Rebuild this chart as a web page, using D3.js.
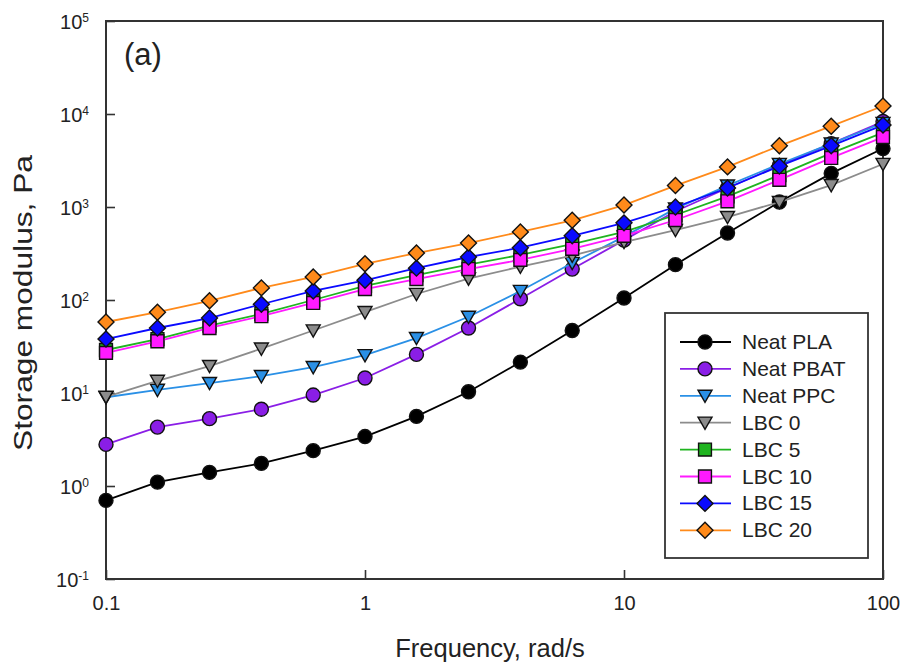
<!DOCTYPE html>
<html>
<head>
<meta charset="utf-8">
<script src="https://cdn.jsdelivr.net/npm/d3@7/dist/d3.min.js"></script>
<style>
  body { margin: 0; background: #fff; }
  svg text { font-family: "Liberation Sans", Arial, sans-serif; fill: #222; }
</style>
</head>
<body>
<svg id="chart" width="904" height="664"></svg>
<script>
// Angular frequency sweep, rad/s
const frequency = [0.1, 0.158, 0.251, 0.398, 0.631, 1, 1.58, 2.51, 3.98, 6.31, 10, 15.8, 25.1, 39.8, 63.1, 100];

// Storage modulus G', Pa
const neatPLA  = [0.7, 1.1, 1.4, 1.75, 2.4, 3.4, 5.6, 10.3, 21.5, 47, 105, 240, 525, 1130, 2300, 4250];
const neatPBAT = [2.8, 4.3, 5.3, 6.7, 9.5, 14.5, 26, 50, 103, 215, 440, 900, 1600, 2800, 4800, 8300];
const neatPPC  = [9.0, 10.8, 12.8, 15.2, 19, 25.5, 39, 66, 125, 250, 480, 960, 1700, 2900, 4800, 8000];
const lbc0     = [9.1, 13.5, 19.5, 30, 47, 74, 116, 170, 228, 300, 420, 565, 780, 1130, 1720, 2900];
const lbc5     = [29, 38, 53, 71, 100, 142, 185, 240, 305, 400, 540, 820, 1300, 2200, 3800, 6300];
const lbc10    = [27, 36, 50, 67, 93, 131, 168, 215, 270, 355, 490, 725, 1150, 1960, 3370, 5650];
const lbc15    = [38, 50, 64, 90, 125, 163, 220, 290, 365, 490, 675, 1000, 1600, 2750, 4550, 7600];
const lbc20    = [58, 74, 98, 135, 177, 245, 320, 410, 540, 720, 1050, 1700, 2700, 4550, 7400, 12200];

const seriesNames  = ["Neat PLA", "Neat PBAT", "Neat PPC", "LBC 0", "LBC 5", "LBC 10", "LBC 15", "LBC 20"];
const seriesValues = [neatPLA, neatPBAT, neatPPC, lbc0, lbc5, lbc10, lbc15, lbc20];
const seriesColors = ["#000000", "#8a1ee6", "#2a90e6", "#8c8c8c", "#1fb41f", "#ff1aff", "#0a0aff", "#ff8a1a"];
const seriesSymbols = ["circle", "circle", "triDown", "triDown", "square", "square", "diamond", "diamond"];

const xTicks = [0.1, 1, 10, 100];
const yTicks = [0.1, 1, 10, 100, 1000, 10000, 100000];

const svg = d3.select("#chart");
const margin = { left: 106, right: 21, top: 21, bottom: 85 };
const W = 904, H = 664;
const iw = W - margin.left - margin.right;
const ih = H - margin.top - margin.bottom;

const x = d3.scaleLog().domain([0.1, 100]).range([margin.left, margin.left + iw]);
const y = d3.scaleLog().domain([0.1, 100000]).range([margin.top + ih, margin.top]);

// axes with inward ticks
const gx = svg.append("g")
  .attr("transform", `translate(0,${margin.top + ih})`)
  .call(d3.axisBottom(x).tickValues(xTicks).tickFormat(d => d < 1 ? d3.format(".1f")(d) : d3.format("d")(d))
        .tickSizeInner(-9).tickSizeOuter(0).tickPadding(17));
gx.select(".domain").remove();
gx.selectAll("line").attr("stroke", "#333").attr("stroke-width", 1.6);
gx.selectAll("text").attr("font-size", 20).attr("fill", "#222");

const gy = svg.append("g")
  .attr("transform", `translate(${margin.left},0)`)
  .call(d3.axisLeft(y).tickValues(yTicks).tickSizeInner(-9).tickSizeOuter(0).tickPadding(17));
gy.select(".domain").remove();
gy.selectAll("line").attr("stroke", "#333").attr("stroke-width", 1.6);
gy.selectAll(".tick text").each(function(d) {
  const t = d3.select(this);
  t.text(null).attr("font-size", 20).attr("fill", "#222").attr("dy", "7px");
  t.append("tspan").text("10");
  t.append("tspan").attr("font-size", 12).attr("dy", "-6.5px").text(Math.round(Math.log10(d)));
});

// plot frame
svg.append("rect")
  .attr("x", margin.left).attr("y", margin.top)
  .attr("width", iw).attr("height", ih)
  .attr("fill", "none").attr("stroke", "#333").attr("stroke-width", 2);

// axis titles
svg.append("text")
  .attr("x", 490).attr("y", 657)
  .attr("text-anchor", "middle").attr("font-size", 25.5)
  .text("Frequency, rad/s");
svg.append("text")
  .attr("transform", "translate(32,303) rotate(-90)")
  .attr("text-anchor", "middle").attr("font-size", 25)
  .attr("textLength", 296).attr("lengthAdjust", "spacingAndGlyphs")
  .text("Storage modulus, Pa");

// panel label
svg.append("text")
  .attr("x", 124).attr("y", 65).attr("font-size", 31)
  .text("(a)");

// marker shapes (s = nominal marker width in px)
function symbolPath(kind, s) {
  switch (kind) {
    case "circle": return d3.symbol().type(d3.symbolCircle).size(Math.PI * (s / 2) * (s / 2))();
    case "square": { const h = s * 0.46; return `M${-h},${-h}H${h}V${h}H${-h}Z`; }
    case "diamond": { const h = s * 0.57; return `M0,${-h}L${h},0L0,${h}L${-h},0Z`; }
    case "triDown": { const h = s * 0.5; return `M${-h},${-h * 0.8}L${h},${-h * 0.8}L0,${h * 0.95}Z`; }
  }
}

const line = d3.line().x(d => x(d[0])).y(d => y(d[1]));

const plot = svg.append("g");
seriesValues.forEach((vals, i) => {
  const pts = frequency.map((f, j) => [f, vals[j]]);
  const g = plot.append("g");
  g.append("path").datum(pts).attr("d", line)
    .attr("fill", "none").attr("stroke", seriesColors[i]).attr("stroke-width", 1.8);
  g.selectAll("path.m").data(pts).enter().append("path")
    .attr("class", "m")
    .attr("transform", d => `translate(${x(d[0])},${y(d[1])})`)
    .attr("d", symbolPath(seriesSymbols[i], 14))
    .attr("fill", seriesColors[i]).attr("stroke", "#111").attr("stroke-width", 1.4);
});

// legend
const lg = svg.append("g");
lg.append("rect").attr("x", 665).attr("y", 313).attr("width", 203).attr("height", 245)
  .attr("fill", "#fff").attr("stroke", "#333").attr("stroke-width", 1.8);
seriesNames.forEach((name, i) => {
  const yy = 342 + i * 26.9;
  lg.append("line").attr("x1", 680).attr("x2", 731).attr("y1", yy).attr("y2", yy)
    .attr("stroke", seriesColors[i]).attr("stroke-width", 1.8);
  lg.append("path").attr("transform", `translate(705,${yy})`)
    .attr("d", symbolPath(seriesSymbols[i], 14))
    .attr("fill", seriesColors[i]).attr("stroke", "#111").attr("stroke-width", 1.4);
  lg.append("text").attr("x", 742).attr("y", yy).attr("dy", "7px")
    .attr("font-size", 21).text(name);
});
</script>
</body>
</html>
